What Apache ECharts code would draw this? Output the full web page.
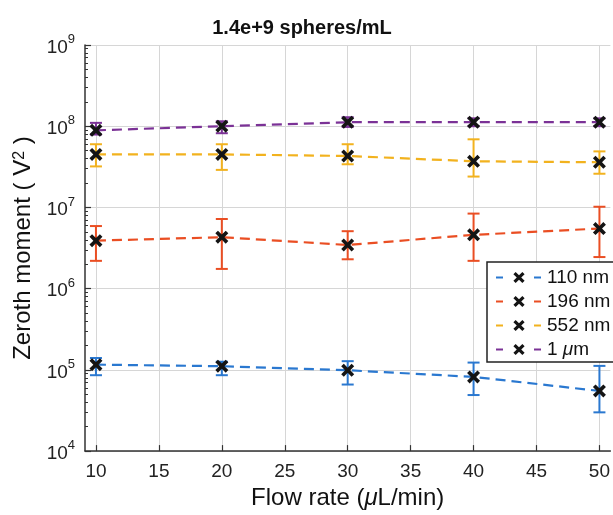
<!DOCTYPE html>
<html>
<head>
<meta charset="utf-8">
<script src="https://cdn.jsdelivr.net/npm/echarts@6/dist/echarts.min.js"></script>
<style>
html,body{margin:0;padding:0;background:#fff;}
#c{width:613px;height:515px;}
</style>
</head>
<body>
<div id="c"></div>
<script>
// ---- data ----
var flowRates = [10, 20, 30, 40, 50];
var seriesNames = ['110 nm', '196 nm', '552 nm', '1 μm'];
var seriesColors = ['#2a78d0', '#ea4e23', '#f2b21e', '#7b3296'];

var mean110 = [1.16e5, 1.11e5, 9.9e4, 8.2e4, 5.5e4];
var low110  = [8.6e4, 8.6e4, 6.6e4, 4.9e4, 3.0e4];
var high110 = [1.40e5, 1.26e5, 1.28e5, 1.23e5, 1.12e5];

var mean196 = [3.9e6, 4.3e6, 3.45e6, 4.6e6, 5.5e6];
var low196  = [2.2e6, 1.75e6, 2.3e6, 2.2e6, 2.45e6];
var high196 = [5.9e6, 7.2e6, 5.1e6, 8.4e6, 1.02e7];

var mean552 = [4.5e7, 4.5e7, 4.3e7, 3.7e7, 3.6e7];
var low552  = [3.2e7, 2.9e7, 3.4e7, 2.4e7, 2.6e7];
var high552 = [6.0e7, 6.0e7, 6.0e7, 6.9e7, 4.9e7];

var mean1um = [8.9e7, 1.0e8, 1.12e8, 1.12e8, 1.12e8];
var low1um  = [7.9e7, 8.2e7, 9.8e7, 1.0e8, 1.0e8];
var high1um = [1.10e8, 1.15e8, 1.29e8, 1.25e8, 1.25e8];

var xTicks = [10, 15, 20, 25, 30, 35, 40, 45, 50];
var titleText = '1.4e+9 spheres/mL';

// ---- build options ----
var means = [mean110, mean196, mean552, mean1um];
var lows = [low110, low196, low552, low1um];
var highs = [high110, high196, high552, high1um];

var minorLog = [];
for (var d = 4; d < 9; d++) {
  for (var k = 2; k <= 9; k++) minorLog.push(Math.log10(k) + d);
}

var FONT = 'Liberation Sans, Arial, Helvetica, sans-serif';
var xPath = 'path://M0,2L2,0L5,3L8,0L10,2L7,5L10,8L8,10L5,7L2,10L0,8L3,5Z';

var series = [];
for (var i = 0; i < 4; i++) {
  (function (i) {
    var errData = flowRates.map(function (x, j) { return [x, lows[i][j], highs[i][j]]; });
    series.push({
      name: seriesNames[i] + ' err',
      type: 'custom',
      xAxisIndex: 0, yAxisIndex: 0,
      z: 1,
      silent: true,
      encode: { x: 0, y: [1, 2] },
      data: errData,
      renderItem: function (params, api) {
        var x = api.value(0);
        var p1 = api.coord([x, api.value(1)]);
        var p2 = api.coord([x, api.value(2)]);
        var hw = 6;
        var st = { stroke: seriesColors[i], lineWidth: 2 };
        return {
          type: 'group',
          children: [
            { type: 'line', shape: { x1: p1[0], y1: p1[1], x2: p2[0], y2: p2[1] }, style: st },
            { type: 'line', shape: { x1: p1[0] - hw, y1: p1[1], x2: p1[0] + hw, y2: p1[1] }, style: st },
            { type: 'line', shape: { x1: p2[0] - hw, y1: p2[1], x2: p2[0] + hw, y2: p2[1] }, style: st }
          ]
        };
      }
    });
  })(i);
}
for (var i = 0; i < 4; i++) {
  series.push({
    name: seriesNames[i],
    type: 'line',
    xAxisIndex: 0, yAxisIndex: 0,
    z: 3,
    data: flowRates.map(function (x, j) { return [x, means[i][j]]; }),
    symbol: xPath,
    symbolSize: 13,
    itemStyle: { color: '#141414' },
    lineStyle: { color: seriesColors[i], width: 2.2, type: [10, 6] },
    emphasis: { disabled: true }
  });
}

var chart = echarts.init(document.getElementById('c'), null, { renderer: 'canvas' });
chart.setOption({
  animation: false,
  backgroundColor: '#ffffff',
  textStyle: { fontFamily: FONT },
  title: {
    text: titleText,
    left: 297, top: 13,
    textAlign: 'center',
    textStyle: { fontFamily: FONT, fontSize: 20, fontWeight: 'bold', color: '#111' }
  },
  grid: { left: 85, top: 45, width: 527, height: 408, containLabel: false },
  legend: {
    data: seriesNames,
    orient: 'vertical',
    left: 487, top: 262,
    padding: [6, 10, 3, 8],
    itemGap: 5,
    itemWidth: 46,
    itemHeight: 14,
    backgroundColor: '#ffffff',
    borderColor: '#222',
    borderWidth: 1.5,
    borderRadius: 0,
    lineStyle: { type: [7, 31] },
    selectedMode: false,
    textStyle: { fontFamily: FONT, fontSize: 19, color: '#111', rich: { i: { fontFamily: FONT, fontSize: 19, fontStyle: 'italic', color: '#111' } } },
    formatter: function (name) { return name.replace('μ', '{i|μ}'); }
  },
  xAxis: {
    type: 'value',
    min: 9.13, max: 50.87,
    name: 'Flow rate ({i|μ}L/min)',
    nameLocation: 'middle',
    nameGap: 34,
    nameTextStyle: { fontFamily: FONT, fontSize: 24, color: '#111', rich: { i: { fontFamily: FONT, fontSize: 24, fontStyle: 'italic', color: '#111' } } },
    axisLine: { show: true, lineStyle: { color: '#333', width: 1.5 } },
    axisTick: { show: true, inside: true, length: 6, customValues: xTicks, lineStyle: { color: '#333', width: 1.2 } },
    axisLabel: { customValues: xTicks, margin: 11, fontFamily: FONT, fontSize: 19, color: '#222' },
    splitLine: { show: true, lineStyle: { color: '#d6d6d6', width: 1 } }
  },
  yAxis: [{
    type: 'log',
    logBase: 10,
    min: 1e4, max: 1e9,
    position: 'left',
    name: 'Zeroth moment ( V{s|2} )',
    nameLocation: 'middle',
    nameGap: 43,
    nameRotate: 90,
    nameTextStyle: { fontFamily: FONT, fontSize: 24, color: '#111',
      rich: { s: { fontFamily: FONT, fontSize: 16, color: '#111', verticalAlign: 'top', lineHeight: 16 } } },
    axisLine: { show: true, lineStyle: { color: '#333', width: 1.5 } },
    axisTick: { show: true, inside: true, length: 6, lineStyle: { color: '#333', width: 1.2 } },
    axisLabel: {
      margin: 10,
      formatter: function (v) { return '{b|10}{s|' + Math.round(Math.log10(v)) + '}'; },
      rich: {
        b: { fontFamily: FONT, fontSize: 19, color: '#222', lineHeight: 24, verticalAlign: 'bottom' },
        s: { fontFamily: FONT, fontSize: 13, color: '#222', lineHeight: 13, verticalAlign: 'top' }
      }
    },
    splitLine: { show: true, lineStyle: { color: '#d6d6d6', width: 1 } }
  }, {
    type: 'value',
    min: 4, max: 9,
    position: 'left',
    axisLine: { show: false },
    axisLabel: { show: false },
    splitLine: { show: false },
    axisTick: { show: true, inside: true, length: 3, customValues: minorLog, lineStyle: { color: '#333', width: 1 } }
  }],
  series: series
});
</script>
</body>
</html>
